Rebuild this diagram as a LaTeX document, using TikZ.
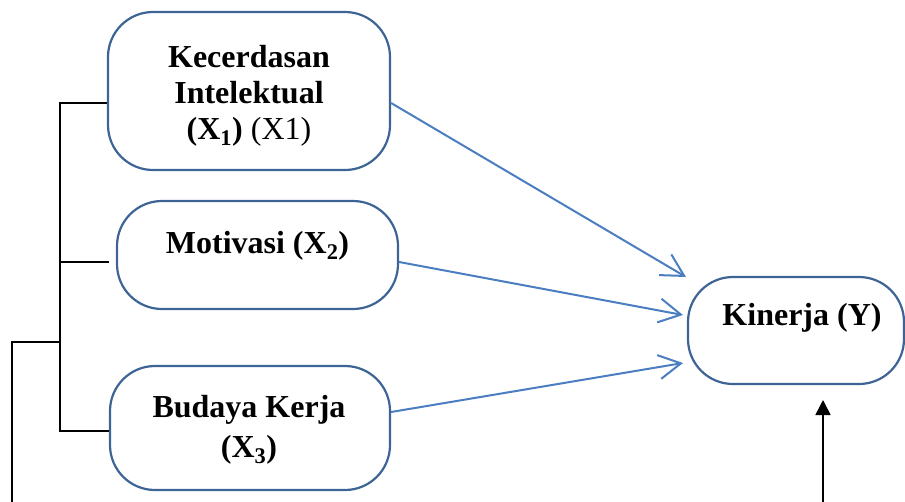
\documentclass[tikz,border=0pt]{standalone}
\usepackage{fontspec}
\setmainfont{Liberation Serif}
\usetikzlibrary{arrows.meta}
\definecolor{boxblue}{RGB}{62,100,150}
\definecolor{arrblue}{RGB}{74,126,193}
\begin{document}
\begin{tikzpicture}[x=1pt,y=-1pt,
  vbox/.style={draw=boxblue, line width=2.2pt, rounded corners=45pt, inner sep=0pt, fill=white},
  lbl/.style={font=\bfseries\fontsize{32}{36}\selectfont, align=center, inner sep=0pt},
  blk/.style={draw=black, line width=1.6pt},
  barr/.style={draw=arrblue, line width=2pt, -{Straight Barb[length=22pt,width=24pt,line width=2pt]}}
]
\useasboundingbox (0,0) rectangle (905,501);
\node[vbox, minimum width=282pt, minimum height=158pt] (bx1) at (249,91) {};
\node[vbox, minimum width=281pt, minimum height=108pt] (bx2) at (257.5,255) {};
\node[vbox, minimum width=280pt, minimum height=124pt] (bx3) at (250,428) {};
\node[vbox, minimum width=216pt, minimum height=107pt] (by) at (796,330.5) {};

\node[lbl, anchor=base] (t1) at (249,139) {Kecerdasan\\Intelektual\\(X\textsubscript{1}) \textmd{(X1)}};
\node[lbl, anchor=base] (t2) at (257.5,253) {Motivasi (X\textsubscript{2})};
\node[lbl, anchor=base, font=\bfseries\fontsize{32}{40}\selectfont] (t3) at (249,457) {Budaya Kerja\\(X\textsubscript{3})};
\node[lbl, anchor=base] (ty) at (802,325) {Kinerja (Y)};

\coordinate (j1) at (60,103);
\coordinate (j2) at (60,262);
\coordinate (j3) at (60,431);
\coordinate (jm) at (60,342);
\coordinate (e2) at (109,262);
\coordinate (c0) at (12,342);
\coordinate (c1) at (12,502);
\coordinate (a0) at (823,502);
\coordinate (a1) at (823,400);
\draw[blk] (bx1.west |- j1) -- (j1) -- (j3) -- (bx3.west |- j3);
\draw[blk] (j2) -- (e2);
\draw[blk] (jm) -- (c0) -- (c1);
\draw[blk, -{Triangle[length=15pt,width=15pt]}] (a0) -- (a1);

\coordinate (p1) at (686,277);
\coordinate (p2) at (683,315);
\coordinate (p3) at (683,363);
\draw[barr] ([yshift=-12pt]bx1.east) -- (p1);
\draw[barr] ([yshift=-7pt]bx2.east) -- (p2);
\draw[barr] ([yshift=16pt]bx3.east) -- (p3);
\end{tikzpicture}
\end{document}
